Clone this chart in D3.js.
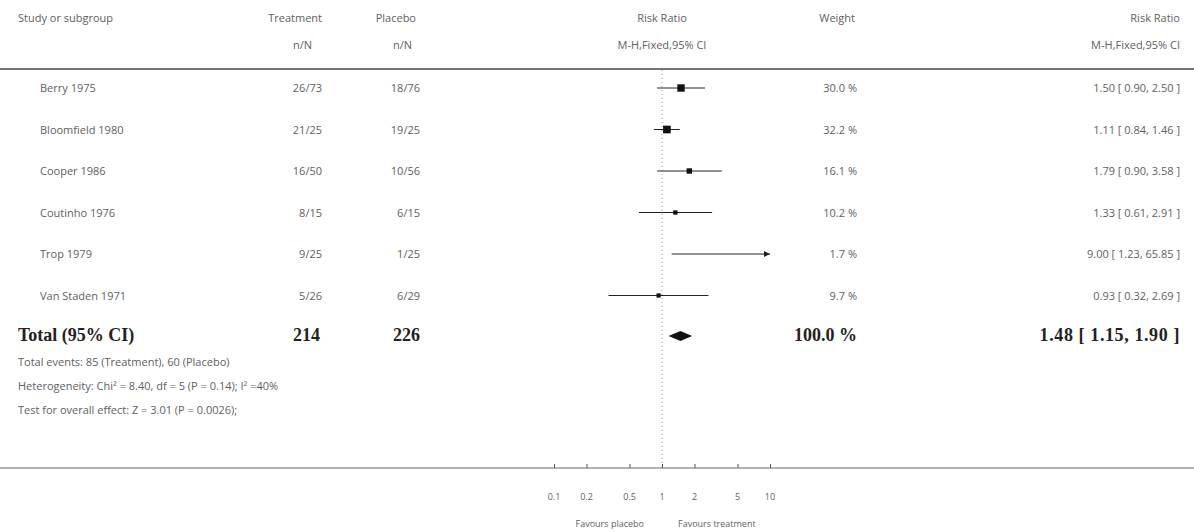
<!DOCTYPE html>
<html>
<head>
<meta charset="utf-8">
<script src="https://cdn.jsdelivr.net/npm/d3@7"></script>
<style>
  body { margin: 0; background: #fff; }
  text { font-family: "Open Sans", "DejaVu Sans", sans-serif; }
</style>
</head>
<body>
<div id="my_dataviz"></div>
<script>
// forest plot: risk ratios per study, fixed effect
var studies = ["Berry 1975", "Bloomfield 1980", "Cooper 1986", "Coutinho 1976", "Trop 1979", "Van Staden 1971"];
var treatEvents = [26, 21, 16, 8, 9, 5];
var treatN = [73, 25, 50, 15, 25, 26];
var placEvents = [18, 19, 10, 6, 1, 6];
var placN = [76, 25, 56, 15, 25, 29];
var weights = [30.0, 32.2, 16.1, 10.2, 1.7, 9.7];
var rr = [1.50, 1.11, 1.79, 1.33, 9.00, 0.93];
var lo = [0.90, 0.84, 0.90, 0.61, 1.23, 0.32];
var hi = [2.50, 1.46, 3.58, 2.91, 65.85, 2.69];

var total = {label: "Total (95% CI)", treat: 214, plac: 226, weight: 100.0, rr: 1.48, lo: 1.15, hi: 1.90};
var footLines = [
  "Total events: 85 (Treatment), 60 (Placebo)",
  "Heterogeneity: Chi\u00B2 = 8.40, df = 5 (P = 0.14); I\u00B2 =40%",
  "Test for overall effect: Z = 3.01 (P = 0.0026);"
];
var tickVals = [0.1, 0.2, 0.5, 1, 2, 5, 10];
var tickLabels = ["0.1", "0.2", "0.5", "1", "2", "5", "10"];

var width = 1194, height = 532;
var svg = d3.select("#my_dataviz")
  .append("svg")
    .attr("width", width)
    .attr("height", height);

var textCol = "#606060";
var f2 = d3.format(".2f");

// x scale for the plot, log
var x = d3.scaleLog().domain([0.1, 10]).range([554, 770]);

// rows
var rowY = d3.scalePoint().domain(d3.range(studies.length + 1)).range([92, 341]);

// header
var hdr = svg.append("g").attr("font-size", 11).attr("fill", textCol);
hdr.append("text").attr("x", 18).attr("y", 22).text("Study or subgroup");
hdr.append("text").attr("x", 322).attr("y", 22).attr("text-anchor", "end").text("Treatment");
hdr.append("text").attr("x", 312).attr("y", 49).attr("text-anchor", "end").text("n/N");
hdr.append("text").attr("x", 416).attr("y", 22).attr("text-anchor", "end").text("Placebo");
hdr.append("text").attr("x", 412).attr("y", 49).attr("text-anchor", "end").text("n/N");
hdr.append("text").attr("x", x(1)).attr("y", 22).attr("text-anchor", "middle").text("Risk Ratio");
hdr.append("text").attr("x", x(1)).attr("y", 49).attr("text-anchor", "middle").text("M-H,Fixed,95% CI");
hdr.append("text").attr("x", 855).attr("y", 22).attr("text-anchor", "end").text("Weight");
hdr.append("text").attr("x", 1180).attr("y", 22).attr("text-anchor", "end").text("Risk Ratio");
hdr.append("text").attr("x", 1180).attr("y", 49).attr("text-anchor", "end").text("M-H,Fixed,95% CI");

svg.append("line")
  .attr("x1", 0).attr("x2", width)
  .attr("y1", 69).attr("y2", 69)
  .attr("stroke", "#444").attr("stroke-width", 1.5);

// line of no effect
svg.append("line")
  .attr("x1", x(1)).attr("x2", x(1))
  .attr("y1", 70).attr("y2", 468)
  .attr("stroke", "#999").attr("stroke-dasharray", "1,3");

// study rows
var rows = svg.append("g").selectAll("g")
  .data(studies)
  .enter()
  .append("g")
    .attr("transform", function(d, i) { return "translate(0," + rowY(i) + ")"; })
    .attr("font-size", 11).attr("fill", textCol);

rows.append("text").attr("x", 40).attr("y", 0).text(function(d) { return d; });
rows.append("text").attr("x", 322).attr("y", 0).attr("text-anchor", "end")
  .text(function(d, i) { return treatEvents[i] + "/" + treatN[i]; });
rows.append("text").attr("x", 420).attr("y", 0).attr("text-anchor", "end")
  .text(function(d, i) { return placEvents[i] + "/" + placN[i]; });
rows.append("text").attr("x", 857).attr("y", 0).attr("text-anchor", "end")
  .text(function(d, i) { return weights[i].toFixed(1) + " %"; });
rows.append("text").attr("x", 1180).attr("y", 0).attr("text-anchor", "end")
  .text(function(d, i) { return f2(rr[i]) + " [ " + f2(lo[i]) + ", " + f2(hi[i]) + " ]"; });

// CI lines, clipped to the axis range
rows.append("line")
  .attr("x1", function(d, i) { return x(Math.max(lo[i], 0.1)); })
  .attr("x2", function(d, i) { return x(Math.min(hi[i], 10)); })
  .attr("y1", -4).attr("y2", -4)
  .attr("stroke", "#222").attr("stroke-width", 1);

// arrows where CI runs off the scale
rows.filter(function(d, i) { return hi[i] > 10; })
  .append("path")
    .attr("d", "M" + x(10) + ",-4 l-6,-3 l0,6 z")
    .attr("fill", "#222");

// squares, area ~ weight
var side = function(w) { return 1.35 * Math.sqrt(w); };
rows.append("rect")
  .attr("x", function(d, i) { return x(rr[i]) - side(weights[i]) / 2; })
  .attr("y", function(d, i) { return -4 - side(weights[i]) / 2; })
  .attr("width", function(d, i) { return side(weights[i]); })
  .attr("height", function(d, i) { return side(weights[i]); })
  .attr("fill", "#111");

// total row
var ty = rowY(studies.length);
var tot = svg.append("g")
  .attr("font-weight", "bold").attr("font-size", 18).attr("fill", "#222");
var serif = "Liberation Serif, serif";
tot.append("text").attr("x", 18).attr("y", ty).style("font-family", serif).text(total.label);
tot.append("text").attr("x", 320).attr("y", ty).attr("text-anchor", "end").style("font-family", serif).text(total.treat);
tot.append("text").attr("x", 420).attr("y", ty).attr("text-anchor", "end").style("font-family", serif).text(total.plac);
tot.append("text").attr("x", 857).attr("y", ty).attr("text-anchor", "end").style("font-family", serif).text(total.weight.toFixed(1) + " %");
tot.append("text").attr("x", 1180).attr("y", ty).attr("text-anchor", "end").style("font-family", serif)
  .style("letter-spacing", "0.6px")
  .text(f2(total.rr) + " [ " + f2(total.lo) + ", " + f2(total.hi) + " ]");

svg.append("path")
  .attr("d", "M" + x(total.lo) + "," + (ty - 5) +
             " L" + x(total.rr) + "," + (ty - 10) +
             " L" + x(total.hi) + "," + (ty - 5) +
             " L" + x(total.rr) + "," + ty + " Z")
  .attr("fill", "#111");

// footnotes
svg.append("g").attr("font-size", 11).attr("fill", textCol)
  .selectAll("text")
  .data(footLines)
  .enter()
  .append("text")
    .attr("x", 18)
    .attr("y", function(d, i) { return 366 + i * 24; })
    .text(function(d) { return d; });

// bottom axis
svg.append("line")
  .attr("x1", 0).attr("x2", width)
  .attr("y1", 468).attr("y2", 468)
  .attr("stroke", "#666").attr("stroke-width", 1);

var axis = d3.axisTop(x).tickValues(tickVals).tickSize(4).tickFormat("");
svg.append("g")
  .attr("transform", "translate(0,468)")
  .call(axis)
  .call(function(g) { g.select(".domain").remove(); })
  .selectAll("line").attr("stroke", "#555");

svg.append("g").attr("font-size", 9).attr("fill", textCol)
  .selectAll("text")
  .data(tickVals)
  .enter()
  .append("text")
    .attr("x", function(d) { return x(d); })
    .attr("y", 500)
    .attr("text-anchor", "middle")
    .text(function(d, i) { return tickLabels[i]; });

svg.append("text").attr("x", x(1) - 18).attr("y", 527).attr("text-anchor", "end")
  .attr("font-size", 9).attr("fill", textCol).text("Favours placebo");
svg.append("text").attr("x", x(1) + 16).attr("y", 527).attr("text-anchor", "start")
  .attr("font-size", 9).attr("fill", textCol).text("Favours treatment");
</script>
</body>
</html>
